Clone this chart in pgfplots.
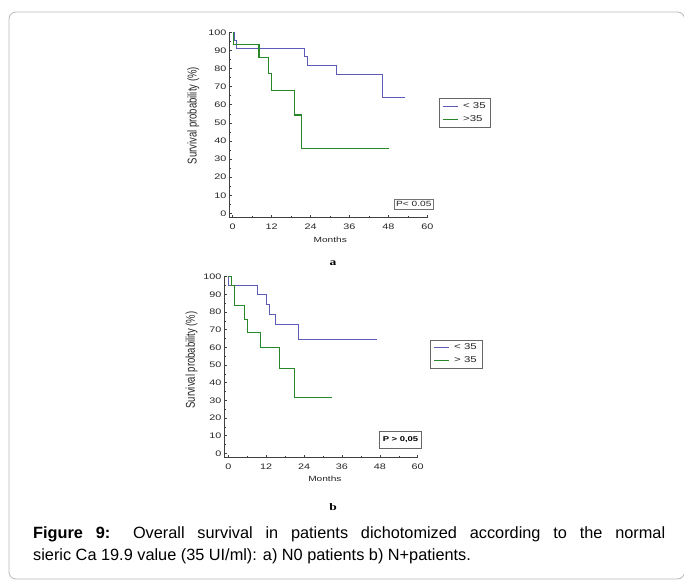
\documentclass[border=0pt]{standalone}
\usepackage{fontspec}
\setmainfont{Liberation Sans}
\newfontfamily\capserif{Liberation Serif}
\usepackage{graphicx}
\usepackage{pgfplots}
\pgfplotsset{compat=1.18}

\definecolor{kmblue}{RGB}{92,92,184}
\definecolor{kmgreen}{RGB}{40,135,40}

\newcommand{\wide}[1]{\scalebox{1.35}[1]{#1}}

\pgfplotsset{
  km/.style={
    scale only axis,
    axis lines*=left,
    axis line style={black!75, line width=0.6pt},
    tick align=inside,
    tick style={black!75, line width=0.5pt},
    major tick length=3pt,
    minor tick length=1.6pt,
    xtick={0,12,...,60},
    ytick={0,10,...,100},
    minor x tick num=1,
    minor y tick num=1,
    xmax=60, ymax=100,
    /pgf/number format/assume math mode=true,
    tick label style={font=\fontsize{8}{9}\selectfont, text=black!85},
    xticklabel={\wide{\pgfmathprintnumber{\tick}}},
    yticklabel={\wide{\pgfmathprintnumber{\tick}}},
    xticklabel style={yshift=-3pt},
    yticklabel style={xshift=0.5pt},
    xlabel={\wide{Months}},
    ylabel={\scalebox{1}[1.35]{Survival probability (\%)}},
    label style={font=\fontsize{7.5}{9}\selectfont, text=black!85},
    ylabel style={font=\fontsize{9.5}{11}\selectfont},
    legend image code/.code={\draw[#1, line width=0.8pt] (0pt,0pt) -- (15pt,0pt);},
    legend cell align=left,
    const plot,
  },
  kmlegend/.style={
    draw=black!60, line width=0.6pt, fill=white,
    font=\fontsize{8.5}{9.5}\selectfont, text=black!85,
    inner xsep=3pt, inner ysep=2pt, row sep=1.5pt, column sep=3pt,
    cells={anchor=west},
  },
}

\begin{document}
\begin{tikzpicture}
  \path[use as bounding box] (0pt,0pt) rectangle (684pt,581pt);
  \draw[gray!55, line width=0.8pt, rounded corners=7pt] (9pt,2pt) rectangle (684.5pt,569pt);

  % a) N0 patients
  \begin{axis}[km, at={(229.3pt,363.3pt)}, anchor=south west,
      width=198pt, height=185.4pt, xmin=-1.05, ymin=-2.4,
      xlabel style={at={(axis description cs:0.51,-0.12)}, anchor=center},
      ylabel style={at={(axis description cs:-0.182,0.55)}, anchor=center},
      legend style={kmlegend, at={(axis description cs:1.059,0.643)}, anchor=north west}]
    \addplot[kmblue, line width=0.8pt] coordinates {(0,100) (0.6,95.5) (1.0,91.2) (22.1,86.5) (23.0,81.7) (32.05,77.0) (46.1,64.3) (53.0,64.3)};
    \addlegendentry{\wide{< 35}\hspace{7pt}}
    \addplot[kmgreen, line width=1.2pt] coordinates {(0,100) (0.3,93.2) (8.1,86.2) (11.0,77.4) (12.0,67.8) (19.0,54.3) (21.2,36.0) (48.2,36.0)};
    \addlegendentry{\wide{>35}\hspace{7pt}}
  \end{axis}

  % b) N+ patients
  \begin{axis}[km, at={(224.3pt,123.3pt)}, anchor=south west,
      width=193.4pt, height=181pt, xmin=-1.27, ymin=-2.5,
      xlabel style={at={(axis description cs:0.52,-0.118)}, anchor=center},
      ylabel style={at={(axis description cs:-0.169,0.54)}, anchor=center},
      legend style={kmlegend, at={(axis description cs:1.064,0.652)}, anchor=north west}]
    \addplot[kmblue, line width=1pt] coordinates {(0,100) (0.2,95.0) (9.1,89.8) (12.05,84.5) (13.0,78.8) (15.0,72.7) (22.1,64.7) (47.1,64.7)};
    \addlegendentry{\wide{< 35}\hspace{3pt}}
    \addplot[kmgreen, line width=1pt] coordinates {(0,100) (1.05,95.0) (2.1,83.5) (5.05,75.9) (6.0,68.2) (10.05,59.7) (16.2,47.8) (21.1,31.8) (33.0,31.8)};
    \addlegendentry{\wide{> 35}\hspace{3pt}}
  \end{axis}

  % p-value boxes
  \node[draw=black!55, line width=0.6pt, inner sep=0pt, minimum width=39pt, minimum height=10.3pt,
        font=\fontsize{7.5}{9}\selectfont, text=black!85] at (413.8pt,376.8pt) {\wide{P< 0.05}};
  \node[draw=black!60, line width=0.9pt, inner sep=0pt, minimum width=42.4pt, minimum height=16.6pt,
        font=\bfseries\fontsize{7}{9}\selectfont] at (400.5pt,141pt) {\wide{P > 0,05}};

  % panel letters
  \node[font=\capserif\bfseries\fontsize{10}{12}\selectfont] at (333pt,318pt) {\wide{a}};
  \node[font=\capserif\bfseries\fontsize{10}{12}\selectfont] at (333pt,74pt) {\wide{b}};

  % caption
  \node[anchor=base west, inner sep=0pt, font=\fontsize{16.3}{20}\selectfont] at (33pt,42.3pt)
    {\makebox[632pt][s]{\textbf{Figure 9:} Overall survival in patients dichotomized according to the normal}};
  \node[anchor=base west, inner sep=0pt, font=\fontsize{16.3}{20}\selectfont] at (33pt,20.3pt)
    {sieric Ca 19.9 value (35 UI/ml): a) N0 patients b) N+patients.};
\end{tikzpicture}
\end{document}
